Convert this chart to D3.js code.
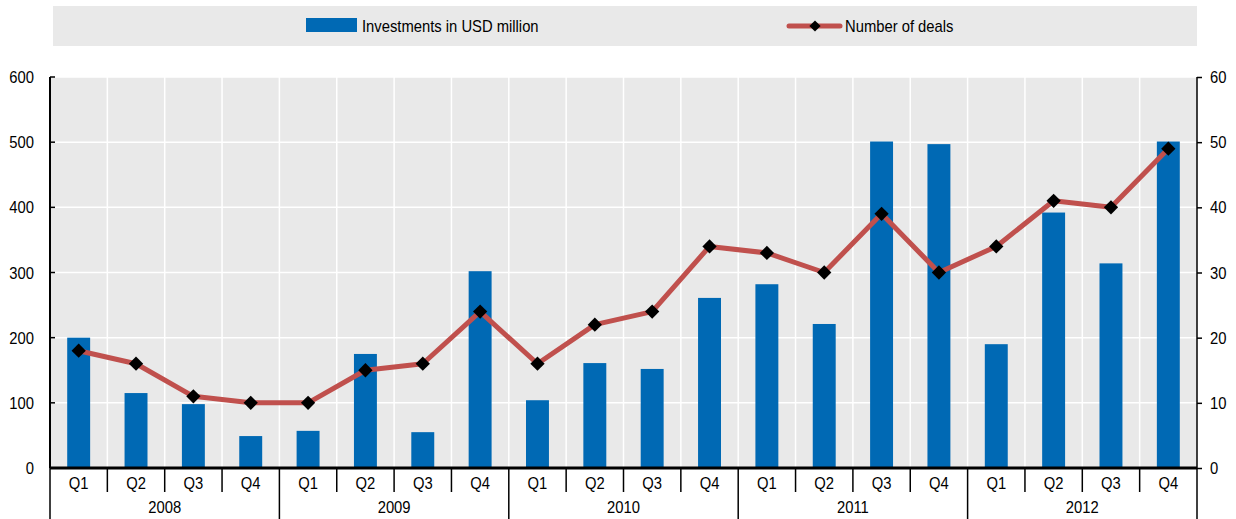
<!DOCTYPE html>
<html>
<head>
<meta charset="utf-8">
<script src="https://cdn.jsdelivr.net/npm/d3@7"></script>
<style>
  body { margin: 0; background: #fff; }
  text { font-family: "Liberation Sans Narrow", "Arial Narrow", "Liberation Sans", sans-serif; fill: #000; font-size: 17px; }
</style>
</head>
<body>
<div class="chart"></div>
<script>
var years = ["2008", "2009", "2010", "2011", "2012"];
var quarters = ["Q1", "Q2", "Q3", "Q4"];
var investments = [200, 115, 98, 49, 57, 175, 55, 302, 104, 161, 152, 261, 282, 221, 501, 497, 190, 392, 314, 501];
var deals = [18, 16, 11, 10, 10, 15, 16, 24, 16, 22, 24, 34, 33, 30, 39, 30, 34, 41, 40, 49];
var leftTicks = [0, 100, 200, 300, 400, 500, 600];
var rightTicks = [0, 10, 20, 30, 40, 50, 60];

var data = [];
years.forEach(function(y, i) {
    quarters.forEach(function(q, j) {
        var k = i * 4 + j;
        data.push({key: y + q, year: y, quarter: q, inv: investments[k], deals: deals[k]});
    });
});

var W = 1236, H = 519;
var margin = {top: 77, right: 39, bottom: 51, left: 50};
var width = W - margin.left - margin.right,
    height = H - margin.top - margin.bottom;
var sx = 0.87; // squeeze text to look like a narrow face

var svg = d3.select(".chart").append("svg")
    .attr("width", W)
    .attr("height", H);

// place a squeezed text at x,y
function label(sel, x, y) {
    return sel.attr("transform", d => "translate(" + (typeof x == "function" ? x(d) : x) + "," + (typeof y == "function" ? y(d) : y) + ") scale(" + sx + ",1)");
}

// legend
var leg = svg.append("g");
leg.append("rect")
    .attr("x", 53).attr("y", 6)
    .attr("width", 1144).attr("height", 40)
    .attr("fill", "#e9e9e9");
leg.append("rect")
    .attr("x", 306).attr("y", 18)
    .attr("width", 51).attr("height", 14)
    .attr("fill", "#0069b4");
label(leg.append("text"), 362, 32).text("Investments in USD million");
leg.append("line")
    .attr("x1", 789).attr("x2", 840).attr("y1", 26).attr("y2", 26)
    .attr("stroke", "#c0504d").attr("stroke-width", 5).attr("stroke-linecap", "round");
leg.append("path")
    .attr("d", d3.symbol().type(d3.symbolDiamond2).size(80)())
    .attr("transform", "translate(815,26)")
    .attr("fill", "#000");
label(leg.append("text"), 845, 32).text("Number of deals");

var g = svg.append("g")
    .attr("transform", "translate(" + margin.left + "," + margin.top + ")");

const xScale = d3.scaleBand()
    .domain(data.map(d => d.key))
    .range([0, width]);

const yScale = d3.scaleLinear()
    .domain([0, 600])
    .range([height, 0]);

const y2Scale = d3.scaleLinear()
    .domain([0, 60])
    .range([height, 0]);

// plot background
g.append("rect")
    .attr("width", width).attr("height", height)
    .attr("fill", "#e9e9e9");

// grid
g.selectAll(".hgrid")
    .data(leftTicks.slice(1))
    .enter().append("line")
    .attr("x1", 0).attr("x2", width)
    .attr("y1", d => yScale(d)).attr("y2", d => yScale(d))
    .attr("stroke", "#fff").attr("stroke-width", 1.5);

g.selectAll(".vgrid")
    .data(data.slice(1))
    .enter().append("line")
    .attr("x1", d => xScale(d.key)).attr("x2", d => xScale(d.key))
    .attr("y1", 0).attr("y2", height)
    .attr("stroke", "#fff").attr("stroke-width", 1.5);

// bars
var bw = xScale.bandwidth() * 0.4;
g.selectAll(".bar")
    .data(data)
    .enter().append("rect")
    .attr("x", d => xScale(d.key) + (xScale.bandwidth() - bw) / 2)
    .attr("y", d => yScale(d.inv))
    .attr("width", bw)
    .attr("height", d => yScale(0) - yScale(d.inv))
    .attr("fill", "#0069b4");

// line
var line = d3.line()
    .x(d => xScale(d.key) + xScale.bandwidth() / 2)
    .y(d => y2Scale(d.deals));

g.append("path")
    .datum(data)
    .attr("d", line)
    .attr("fill", "none")
    .attr("stroke", "#c0504d")
    .attr("stroke-width", 5)
    .attr("stroke-linejoin", "round");

g.selectAll(".marker")
    .data(data)
    .enter().append("path")
    .attr("d", d3.symbol().type(d3.symbolDiamond2).size(130)())
    .attr("transform", d => "translate(" + (xScale(d.key) + xScale.bandwidth() / 2) + "," + y2Scale(d.deals) + ")")
    .attr("fill", "#000");

// left axis
g.selectAll(".llab")
    .data(leftTicks)
    .enter().append("text")
    .call(label, -16, d => yScale(d) + 6)
    .attr("text-anchor", "end")
    .text(d => d);
g.append("line")
    .attr("x1", 0).attr("x2", 0).attr("y1", 0).attr("y2", height)
    .attr("stroke", "#000").attr("stroke-width", 2);
g.selectAll(".ltick")
    .data(leftTicks)
    .enter().append("line")
    .attr("x1", 0).attr("x2", 5)
    .attr("y1", d => yScale(d)).attr("y2", d => yScale(d))
    .attr("stroke", "#000").attr("stroke-width", 1.5);

// right axis
const y2Axis = d3.axisRight(y2Scale).tickValues(rightTicks).tickSize(5).tickFormat("");
var ra = g.append("g")
    .attr("transform", "translate(" + width + ",0)")
    .call(y2Axis);
ra.select(".domain").attr("stroke-width", 1.5).attr("d", "M0," + height + "V0");
ra.selectAll(".tick line").attr("stroke-width", 1.5);
g.selectAll(".rlab")
    .data(rightTicks)
    .enter().append("text")
    .call(label, width + 13, d => y2Scale(d) + 6)
    .text(d => d);

// x axis: quarter labels and year groups
g.append("line")
    .attr("x1", 0).attr("x2", width).attr("y1", height).attr("y2", height)
    .attr("stroke", "#000").attr("stroke-width", 3);

g.selectAll(".qdiv")
    .data(data)
    .enter().append("line")
    .attr("x1", d => xScale(d.key)).attr("x2", d => xScale(d.key))
    .attr("y1", height).attr("y2", d => d.quarter == "Q1" ? H - margin.top : height + 24)
    .attr("stroke", "#000").attr("stroke-width", 1.5);

g.append("line")
    .attr("x1", width).attr("x2", width).attr("y1", height).attr("y2", H - margin.top)
    .attr("stroke", "#000").attr("stroke-width", 1.5);

g.selectAll(".qlab")
    .data(data)
    .enter().append("text")
    .call(label, d => xScale(d.key) + xScale.bandwidth() / 2, height + 21)
    .attr("text-anchor", "middle")
    .text(d => d.quarter);

g.selectAll(".ylab")
    .data(years)
    .enter().append("text")
    .call(label, d => (xScale(d + "Q1") + xScale(d + "Q4") + xScale.bandwidth()) / 2, height + 45)
    .attr("text-anchor", "middle")
    .text(d => d);
</script>
</body>
</html>
